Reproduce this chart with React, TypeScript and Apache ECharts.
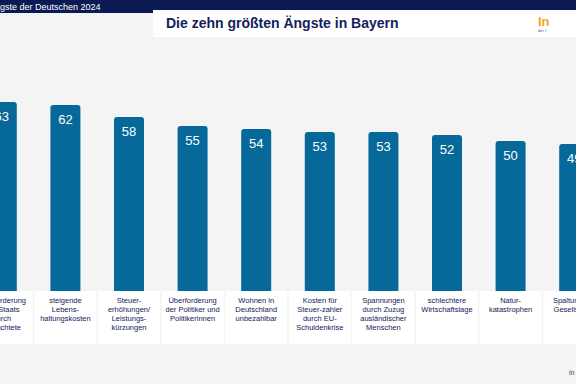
import React, { useEffect, useRef } from "react";
import * as echarts from "echarts";

const categories = [
  "Überforderung\ndes Staats\ndurch\nGeflüchtete",
  "steigende\nLebens-\nhaltungskosten",
  "Steuer-\nerhöhungen/\nLeistungs-\nkürzungen",
  "Überforderung\nder Politiker und\nPolitikerinnen",
  "Wohnen in\nDeutschland\nunbezahlbar",
  "Kosten für\nSteuer-zahler\ndurch EU-\nSchuldenkrise",
  "Spannungen\ndurch Zuzug\nausländischer\nMenschen",
  "schlechtere\nWirtschaftslage",
  "Natur-\nkatastrophen",
  "Spaltung der\nGesellschaft",
];
const values = [63, 62, 58, 55, 54, 53, 53, 52, 50, 49];

const headerText = "gste der Deutschen 2024";
const titleText = "Die zehn größten Ängste in Bayern";

const OFF = 32; // canvas is shifted left by this many pixels

export default function App() {
  const ref = useRef<HTMLDivElement>(null);
  useEffect(() => {
    document.body.style.margin = "0";
    if (!ref.current) return;
    const chart = echarts.init(ref.current, null, { renderer: "svg" });
    const navy = "#14215a";
    const font = "Liberation Sans, Arial, sans-serif";
    chart.setOption({
      animation: false,
      backgroundColor: "#f4f4f4",
      grid: { left: 0, right: 0, top: 51, bottom: 93 },
      xAxis: {
        type: "category",
        data: categories,
        axisLine: { show: false },
        axisTick: { show: false },
        axisLabel: {
          interval: 0,
          margin: 0,
          width: 58,
          height: 46,
          padding: [5, 2, 2, 2],
          backgroundColor: "#ffffff",
          color: navy,
          fontSize: 7.5,
          lineHeight: 9,
          fontFamily: font,
          align: "center",
          verticalAlign: "top",
        },
      },
      yAxis: {
        type: "value",
        min: 0,
        max: 80,
        show: false,
        splitLine: { show: false },
      },
      series: [
        {
          type: "bar",
          data: values,
          barWidth: 30,
          itemStyle: { color: "#07699a", borderRadius: [3, 3, 0, 0] },
          label: {
            show: true,
            position: "insideTop",
            distance: 8,
            color: "#ffffff",
            fontSize: 13,
            fontFamily: font,
          },
        },
      ],
      graphic: [
        { type: "rect", x: 0, y: 0, shape: { width: 640, height: 13 }, style: { fill: "#0b1a52" } },
        {
          type: "text",
          x: OFF,
          y: 7,
          style: { text: headerText, fill: "#ffffff", fontSize: 9, fontFamily: font, verticalAlign: "middle" },
        },
        { type: "rect", x: OFF + 153, y: 10, shape: { width: 460, height: 27 }, style: { fill: "#ffffff" } },
        {
          type: "text",
          x: OFF + 166,
          y: 23,
          style: { text: titleText, fill: navy, fontSize: 14, fontWeight: "bold", fontFamily: font, verticalAlign: "middle" },
        },
        {
          type: "text",
          x: OFF + 538,
          y: 21,
          style: { text: "In", fill: "#f0a81c", fontSize: 13, fontWeight: "bold", fontFamily: font, verticalAlign: "middle" },
        },
        {
          type: "text",
          x: OFF + 538,
          y: 30,
          style: { text: "der I", fill: "#555555", fontSize: 4, fontFamily: font, verticalAlign: "middle" },
        },
        {
          type: "text",
          x: OFF + 569,
          y: 372,
          style: { text: "in", fill: "#2a4a80", fontSize: 7, fontFamily: font, verticalAlign: "middle" },
        },
      ],
    });
    return () => chart.dispose();
  }, []);
  return (
    <div style={{ width: 576, height: 384, overflow: "hidden", position: "relative" }}>
      <div ref={ref} style={{ position: "absolute", left: -OFF, top: 0, width: 640, height: 384 }} />
    </div>
  );
}
